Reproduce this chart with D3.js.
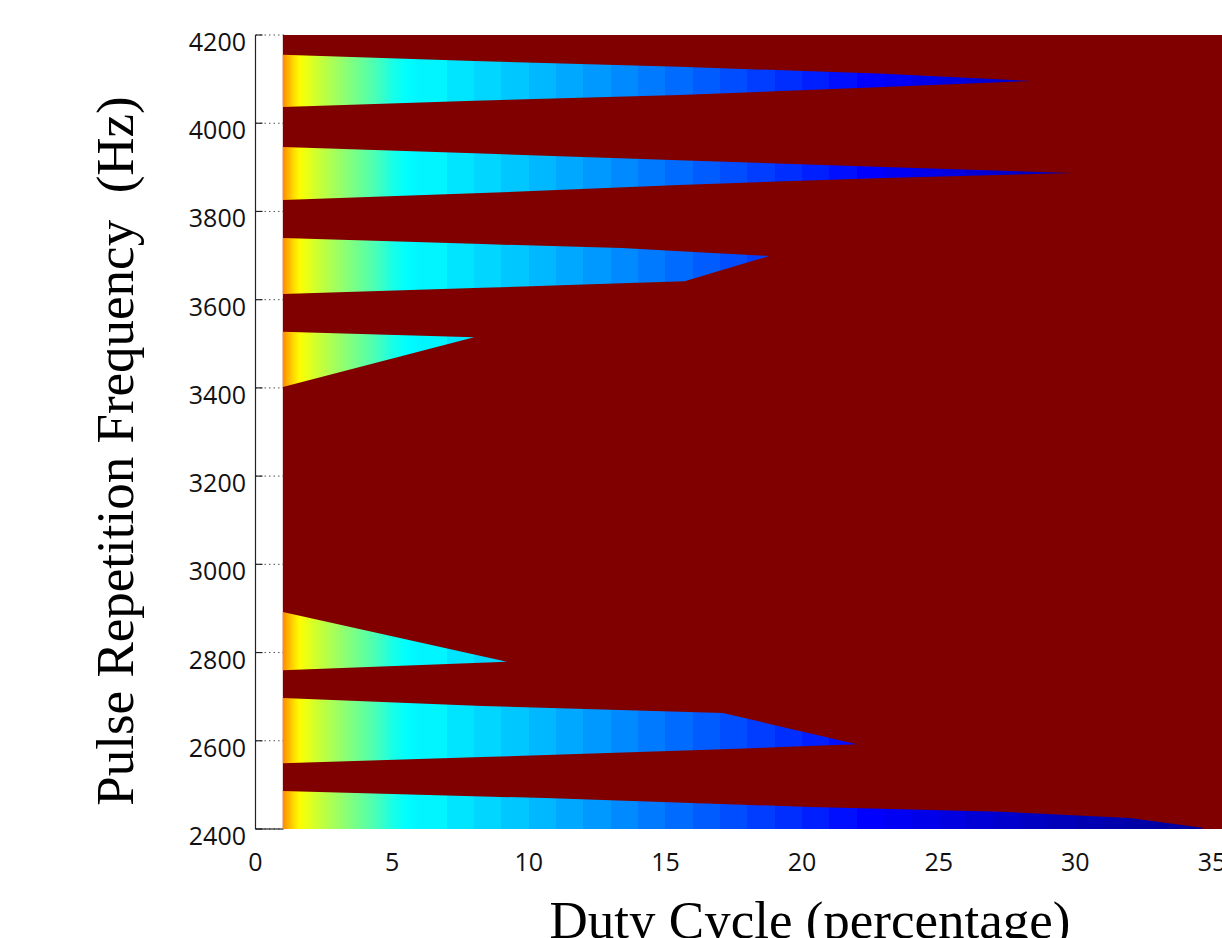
<!DOCTYPE html>
<html>
<head>
<meta charset="utf-8">
<script src="https://cdn.jsdelivr.net/npm/d3@7"></script>
<style>
  html, body { margin: 0; padding: 0; background: #fff; overflow: hidden; }
  svg { display: block; }
</style>
</head>
<body>
<svg id="chart" width="1222" height="938"></svg>
<script>
// ---------------- DATA ----------------
const dutyTicks = [0, 5, 10, 15, 20, 25, 30, 35];
const freqTicks = [2400, 2600, 2800, 3000, 3200, 3400, 3600, 3800, 4000, 4200];

// colour level (jet position 0..1) per duty-cycle column
const colorDuty  = [1, 1.2, 1.4, 1.6, 1.8, 2, 2.5, 3, 3.5, 4, 4.5, 5, 5.5, 6, 7, 8, 9, 10, 11, 12, 13, 14, 15, 16, 17, 18, 19, 20, 21, 22, 23, 24, 25, 26, 27, 28, 29, 30, 31, 32, 33, 34, 35];
const colorLevel = [0.74, 0.70, 0.66, 0.63, 0.61, 0.595, 0.56, 0.53, 0.50, 0.47, 0.44, 0.40, 0.375, 0.365, 0.35, 0.335, 0.32, 0.305, 0.29, 0.275, 0.26, 0.245, 0.23, 0.215, 0.20, 0.185, 0.17, 0.155, 0.14, 0.125, 0.115, 0.105, 0.095, 0.085, 0.075, 0.065, 0.058, 0.05, 0.044, 0.038, 0.032, 0.026, 0.02];
const backgroundLevel = 1.0;

// lobes: duty cycle points, upper and lower frequency boundaries (Hz)
const lobeA_duty   = [1, 8.0, 15.5, 23.0, 28.4];
const lobeA_top    = [4155, 4141, 4128, 4112, 4096];
const lobeA_bottom = [4037, 4051, 4064, 4082, 4096];

const lobeB_duty   = [1, 8.0, 15.5, 23.0, 29.9];
const lobeB_top    = [3946, 3932, 3916, 3901, 3887];
const lobeB_bottom = [3826, 3841, 3860, 3876, 3887];

const lobeC_duty   = [1, 8.3, 13.4, 15.7, 18.8];
const lobeC_top    = [3740, 3726, 3717, 3709, 3699];
const lobeC_bottom = [3613, 3627, 3637, 3642, 3699];

const lobeD_duty   = [1, 8.0];
const lobeD_top    = [3527, 3515];
const lobeD_bottom = [3402, 3515];

const lobeE_duty   = [1, 9.2];
const lobeE_top    = [2892, 2779];
const lobeE_bottom = [2760, 2779];

const lobeF_duty   = [1, 8.3, 17.1, 22.0];
const lobeF_top    = [2697, 2679, 2663, 2592];
const lobeF_bottom = [2549, 2563, 2581, 2592];

const lobeG_duty   = [1, 10.6, 20.3, 27.3, 32.0, 34.65];
const lobeG_top    = [2486, 2470, 2450, 2439, 2425, 2403];
const lobeG_bottom = [2400, 2400, 2400, 2400, 2400, 2400];

// ---------------- CHART ----------------
const svg = d3.select("#chart");
const x = d3.scaleLinear().domain([0, 35]).range([255.5, 1212]);
const y = d3.scaleLinear().domain([2400, 4200]).range([829, 35]);

const jet = d3.scaleLinear()
  .domain([0, 0.125, 0.375, 0.625, 0.875, 1])
  .range(["#000080", "#0000ff", "#00ffff", "#ffff00", "#ff0000", "#800000"])
  .interpolate(d3.interpolateRgb);

const defs = svg.append("defs");
const xEnd = 36;
const grad = defs.append("linearGradient")
  .attr("id", "jetGrad")
  .attr("gradientUnits", "userSpaceOnUse")
  .attr("x1", x(colorDuty[0])).attr("x2", x(xEnd))
  .attr("y1", 0).attr("y2", 0);
const off = d => (x(d) - x(colorDuty[0])) / (x(xEnd) - x(colorDuty[0]));
const stops = [];
colorDuty.forEach((d, i) => {
  const c = jet(colorLevel[i]);
  const next = i < colorDuty.length - 1 ? colorDuty[i + 1] : xEnd;
  if (next - d <= 0.55) {
    stops.push([off(d), c]);
  } else {
    stops.push([off(d), c]);
    stops.push([off(next) - 0.0001, c]);
  }
});
grad.selectAll("stop").data(stops).join("stop")
  .attr("offset", s => Math.max(0, Math.min(1, s[0])))
  .attr("stop-color", s => s[1]);

defs.append("clipPath").attr("id", "plotClip")
  .append("rect")
  .attr("x", x(0)).attr("y", y(4200))
  .attr("width", 1222 - x(0)).attr("height", y(2400) - y(4200));

const axisColor = "#222";

// dotted grid lines (behind image)
svg.append("g").selectAll("line").data(freqTicks).join("line")
  .attr("x1", x(0)).attr("x2", x(colorDuty[0]) + 2)
  .attr("y1", d => y(d)).attr("y2", d => y(d))
  .attr("stroke", "#555").attr("stroke-width", 1)
  .attr("stroke-dasharray", "1.5,3");

// axis lines
svg.append("line")
  .attr("x1", x(0)).attr("x2", x(0))
  .attr("y1", y(4200)).attr("y2", y(2400))
  .attr("stroke", axisColor).attr("stroke-width", 1.2);
svg.append("line")
  .attr("x1", x(0)).attr("x2", x(colorDuty[0]))
  .attr("y1", y(2400)).attr("y2", y(2400))
  .attr("stroke", axisColor).attr("stroke-width", 1.2);

// y ticks (inward)
svg.append("g").selectAll("line").data(freqTicks).join("line")
  .attr("x1", x(0)).attr("x2", x(0) + 7)
  .attr("y1", d => y(d)).attr("y2", d => y(d))
  .attr("stroke", axisColor).attr("stroke-width", 1.2);

// image
const plot = svg.append("g").attr("clip-path", "url(#plotClip)");
plot.append("rect")
  .attr("x", x(colorDuty[0])).attr("y", y(4200))
  .attr("width", x(xEnd) - x(colorDuty[0]))
  .attr("height", y(2400) - y(4200))
  .attr("fill", jet(backgroundLevel));

const lobes = [
  [lobeA_duty, lobeA_top, lobeA_bottom],
  [lobeB_duty, lobeB_top, lobeB_bottom],
  [lobeC_duty, lobeC_top, lobeC_bottom],
  [lobeD_duty, lobeD_top, lobeD_bottom],
  [lobeE_duty, lobeE_top, lobeE_bottom],
  [lobeF_duty, lobeF_top, lobeF_bottom],
  [lobeG_duty, lobeG_top, lobeG_bottom]
].map(([d, t, b]) => d.map((v, i) => ({ d: v, top: t[i], bottom: b[i] })));

const area = d3.area()
  .x(p => x(p.d))
  .y0(p => y(p.bottom))
  .y1(p => y(p.top))
  .curve(d3.curveLinear);

plot.selectAll("path.lobe").data(lobes).join("path")
  .attr("class", "lobe")
  .attr("d", area)
  .attr("fill", "url(#jetGrad)")
  .attr("stroke", "none");

// tick labels
const tickFont = "'Open Sans', 'DejaVu Sans', sans-serif";
svg.append("g").selectAll("text").data(freqTicks).join("text")
  .attr("x", 246).attr("y", d => y(d) + 16)
  .attr("text-anchor", "end")
  .attr("font-family", tickFont).attr("font-size", 25)
  .attr("fill", "#111")
  .text(d => d);

svg.append("g").selectAll("text").data(dutyTicks).join("text")
  .attr("x", d => x(d)).attr("y", 871)
  .attr("text-anchor", "middle")
  .attr("font-family", tickFont).attr("font-size", 25)
  .attr("fill", "#111")
  .text(d => d);

// axis titles
const titleFont = "'Liberation Serif', 'DejaVu Serif', serif";
svg.append("text")
  .attr("transform", "translate(133,451) rotate(-90)")
  .attr("text-anchor", "middle")
  .attr("font-family", titleFont).attr("font-size", 53)
  .attr("fill", "#000")
  .style("white-space", "pre")
  .attr("xml:space", "preserve")
  .text("Pulse Repetition Frequency  (Hz)");

svg.append("text")
  .attr("x", 810).attr("y", 938)
  .attr("text-anchor", "middle")
  .attr("font-family", titleFont).attr("font-size", 53)
  .attr("fill", "#000")
  .text("Duty Cycle (percentage)");
</script>
</body>
</html>
